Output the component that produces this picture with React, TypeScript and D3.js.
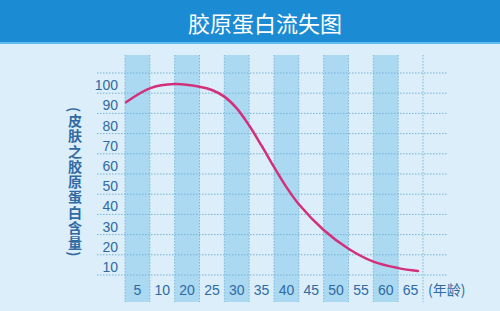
import React from "react";
import * as d3 from "d3";

const title = "胶原蛋白流失图";
const xCategories = ["5", "10", "20", "25", "30", "35", "40", "45", "50", "55", "60", "65"];
const yTicks = [10, 20, 30, 40, 50, 60, 70, 80, 90, 100];
const yAxisTitle = "(皮肤之胶原蛋白含量)";
const xUnit = "(年龄)";
// curve: position in column units (0 = left edge of first column), collagen value
const curvePos = [0.04, 1, 2, 3, 3.5, 4, 4.5, 5, 5.5, 6, 6.5, 7, 8, 9, 10, 11, 11.8];
const curveVal = [90.5, 97.4, 99.5, 98.2, 96.6, 93.3, 87.5, 79, 69, 58.5, 48.5, 40, 27.3, 18, 11.6, 8.4, 7];

const W = 500;
const H = 311;

export default function App() {
  const x = d3.scaleBand<string>().domain(xCategories).range([125, 423]).padding(0);
  const xc = d3.scaleLinear().domain([0, xCategories.length]).range([125, 423]);
  const y = d3.scaleLinear().domain([5, 105]).range([275, 73]);
  const gridVals = d3.range(5, 106, 10);
  const pts = curvePos.map((p, i) => [xc(p), y(curveVal[i])] as [number, number]);
  const line = d3.line().curve(d3.curveCatmullRom.alpha(0.5))(pts) || "";
  const cjk = "'Noto Sans CJK SC', 'Noto Sans', sans-serif";
  const num = "'Liberation Sans', Arial, sans-serif";
  const textColor = "#2f6aa3";
  const stripeTop = 55;
  const stripeBottom = 302;
  const bounds = xCategories.map((c) => x(c)!).concat([423]);

  return (
    <svg width={W} height={H} style={{ position: "absolute", left: 0, top: 0 }}>
      <rect x={0} y={0} width={W} height={H} fill="#dbeefa" />
      <rect x={0} y={0} width={W} height={42} fill="#1b8bd3" />
      <rect x={0} y={42} width={W} height={2} fill="#5dbdee" />
      <text x={265} y={22} fill="#ffffff" fontFamily={cjk} fontSize={22} textAnchor="middle" dominantBaseline="central">
        {title}
      </text>
      {xCategories.map((c, i) =>
        i % 2 === 0 ? (
          <rect key={c} x={x(c)} y={stripeTop} width={x.bandwidth()} height={stripeBottom - stripeTop} fill="#acd9f2" />
        ) : null
      )}
      {gridVals.map((v) => (
        <line key={v} x1={97} x2={448} y1={y(v)} y2={y(v)} stroke="#74b3d6" strokeWidth={1} strokeDasharray="1.5,1.5" />
      ))}
      {bounds.map((b, i) => (
        <line key={i} x1={b} x2={b} y1={stripeTop} y2={stripeBottom} stroke="#7cb8da" strokeWidth={1} strokeDasharray="1.5,1.5" />
      ))}
      {yTicks.map((v) => (
        <text key={v} x={118} y={y(v) + 2} fill={textColor} fontFamily={num} fontSize={14} textAnchor="end" dominantBaseline="central">
          {v}
        </text>
      ))}
      {xCategories.map((c) => (
        <text key={c} x={x(c)! + x.bandwidth() / 2} y={295} fill={textColor} fontFamily={num} fontSize={14} textAnchor="middle">
          {c}
        </text>
      ))}
      <text x={428} y={295} fill={textColor} fontFamily={cjk} fontSize={14}>
        {xUnit}
      </text>
      <text
        x={75}
        y={107}
        fill={textColor}
        fontFamily={cjk}
        fontSize={14}
        fontWeight={700}
        style={{ writingMode: "vertical-rl", letterSpacing: "1.3px" } as React.CSSProperties}
      >
        {yAxisTitle}
      </text>
      <path d={line} fill="none" stroke="#d3307c" strokeWidth={2.5} strokeLinecap="round" />
    </svg>
  );
}
